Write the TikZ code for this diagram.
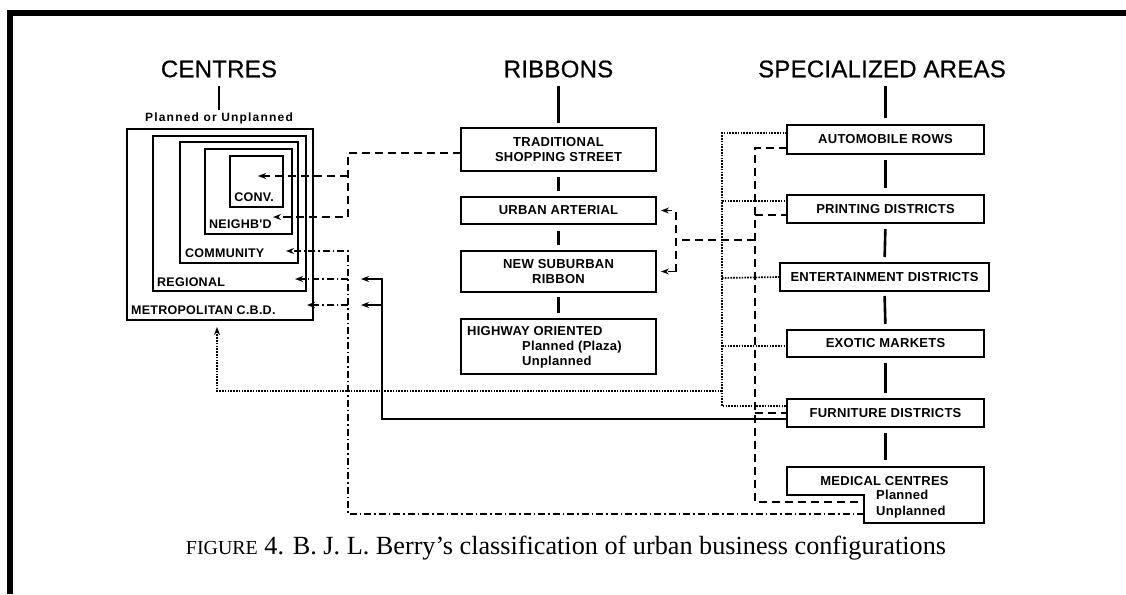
\documentclass[tikz,border=0pt]{standalone}
\usepackage{fontspec}
\usetikzlibrary{arrows.meta}
\newfontfamily\labfont[LetterSpace=2]{Liberation Sans}
\newfontfamily\pufont[LetterSpace=10]{Liberation Sans}
\newfontfamily\headfont[LetterSpace=1,FakeBold=0.6]{Liberation Sans}
\newfontfamily\capfont[Ligatures=TeX]{Liberation Serif}
\begin{document}
\begin{tikzpicture}[x=1pt,y=-1pt,
  box/.style={draw,line width=1.8pt,inner sep=0pt,outer sep=0pt,
    font=\labfont\bfseries\fontsize{13}{15.5}\selectfont,align=center},
  cbox/.style={draw,line width=1.8pt,inner sep=0pt,outer sep=0pt},
  lab/.style={font=\labfont\bfseries\fontsize{13}{15.5}\selectfont,inner sep=0pt},
  clab/.style={font=\labfont\bfseries\fontsize{12.5}{14}\selectfont,inner sep=0pt},
  head/.style={font=\headfont\fontsize{24}{28}\selectfont,inner sep=0pt},
  tick/.style={line width=2.6pt},
  arr/.style={-{Stealth[length=8pt,width=6pt]}},
  dsh/.style={line width=1.7pt,dash pattern=on 8pt off 5pt},
  dd/.style={line width=1.5pt,dash pattern=on 7pt off 3pt on 1.5pt off 3pt},
  dt/.style={line width=1.7pt,dash pattern=on 1.6pt off 1.2pt},
  sol/.style={line width=1.7pt}]
\useasboundingbox (0,0) rectangle (1126,594);
% frame
\fill (7,10) rectangle (1126,16);
\fill (7,10) rectangle (13,594);

% headings
\node[head] (hC) at (219,69) {CENTRES};
\node[head] (hR) at (558.5,69) {RIBBONS};
\node[head] (hS) at (882,69) {SPECIALIZED AREAS};
\node[font=\pufont\bfseries\fontsize{12}{14}\selectfont,inner sep=0pt] (pou) at (219,118) {Planned or Unplanned};

% centres
\node[cbox,minimum width=186,minimum height=191] (cbd) at (220,224.5) {};
\node[cbox,minimum width=153,minimum height=155] (reg) at (229.5,213.5) {};
\node[cbox,minimum width=118,minimum height=121] (com) at (239,202.5) {};
\node[cbox,minimum width=87,minimum height=85] (nei) at (248.5,191.5) {};
\node[cbox,minimum width=53,minimum height=51] (conv) at (256.5,181.5) {};
\node[clab] (lconv) at (254,197) {CONV.};
\node[clab,anchor=west] (lnei) at (209,224) {NEIGHB'D};
\node[clab,anchor=west] (lcom) at (185,253) {COMMUNITY};
\node[clab,anchor=west] (lreg) at (157,282) {REGIONAL};
\node[clab,anchor=west] (lcbd) at (131,310) {METROPOLITAN C.B.D.};

% ribbons
\node[box,minimum width=195,minimum height=43] (trad) at (558.5,149.5) {TRADITIONAL\\SHOPPING STREET};
\node[box,minimum width=195,minimum height=27] (ua) at (558.5,210.5) {URBAN ARTERIAL};
\node[box,minimum width=195,minimum height=41] (nsr) at (558.5,271.5) {NEW SUBURBAN\\RIBBON};
\node[box,minimum width=195,minimum height=55] (hw) at (558.5,346.5) {};
\node[lab,anchor=west] (hw1) at (467,331) {HIGHWAY ORIENTED};
\node[lab,anchor=west] (hw2) at (522,347) {Planned (Plaza)};
\node[lab,anchor=west] (hw3) at (522,362) {Unplanned};

% specialized areas
\node[box,minimum width=197,minimum height=29] (auto) at (885.5,139.5) {AUTOMOBILE ROWS};
\node[box,minimum width=197,minimum height=28] (print) at (885.5,209) {PRINTING DISTRICTS};
\node[box,minimum width=209,minimum height=28] (ent) at (884.5,277) {ENTERTAINMENT DISTRICTS};
\node[box,minimum width=197,minimum height=27] (exo) at (885.5,343.5) {EXOTIC MARKETS};
\node[box,minimum width=197,minimum height=28] (furn) at (885.5,413) {FURNITURE DISTRICTS};
\draw[line width=1.8pt] (787,467) -- (984,467) -- (984,523) -- (864,523) -- (864,495) -- (787,495) -- cycle;
\coordinate (medTop) at (885.5,467);
\node[lab] (medT) at (884.5,481) {MEDICAL CENTRES};
\node[lab,anchor=west] (medPl) at (876,495) {Planned};
\node[lab,anchor=west] (medUn) at (876,512) {Unplanned};

% vertical ticks
\draw[tick,shorten <=2pt,shorten >=8pt] (pou.north) -- (pou.north |- hC.south);
\draw[tick,shorten <=5pt,shorten >=8pt] (trad.north) -- (hR.south);
\draw[tick,shorten <=6pt,shorten >=6pt] (trad.south) -- (ua.north);
\draw[tick,shorten <=7pt,shorten >=6pt] (ua.south) -- (nsr.north);
\draw[tick,shorten <=5pt,shorten >=6pt] (nsr.south) -- (hw.north);
\draw[tick,shorten <=7pt,shorten >=8pt] (auto.north) -- (auto.north |- hS.south);
\draw[tick,shorten <=6pt,shorten >=7pt] (auto.south) -- (print.north);
\draw[tick,shorten <=6pt,shorten >=6pt] (print.south) -- (ent.north);
\draw[tick,shorten <=5pt,shorten >=6pt] (ent.south) -- (exo.north);
\draw[tick,shorten <=6pt,shorten >=6pt] (exo.south) -- (furn.north);
\draw[tick,shorten <=6pt,shorten >=7pt] (furn.south) -- (medTop);

% coordinates
\coordinate (tConv) at (258,176);
\coordinate (tNei) at (273,217);
\coordinate (tCom) at (286,251);
\coordinate (tReg) at (295,279);
\coordinate (tCbd) at (307,305);
\coordinate (tReg2) at (361,279);
\coordinate (tCbd2) at (361,305);
\coordinate (tCbdB) at (217,327);
\coordinate (dB) at (348,217);
\coordinate (dC) at (348,176);
\coordinate (ddTop) at (348,251);
\coordinate (ddReg) at (348,279);
\coordinate (ddCbd) at (348,305);
\coordinate (sReg) at (382,279);
\coordinate (sCbd) at (382,305);
\coordinate (medP) at (864,502);
\coordinate (medU) at (864,514);
\coordinate (dtBot) at (722,406);
\coordinate (dtP) at (722,201);
\coordinate (dtE) at (722,278);
\coordinate (dtX) at (722,346);
\coordinate (dtL) at (722,391);
\coordinate (rBot) at (755,502);
\coordinate (rP) at (755,215);
\coordinate (rF) at (755,413);
\coordinate (rM) at (755,240);
\coordinate (qM) at (676,240);
\coordinate (qBot) at (676,271.5);

% dashed: traditional street -> conv / neighb'd
\draw[dsh,arr] ([yshift=-3.5pt]trad.west) -| (dB) -- (tNei);
\draw[dsh,arr] (dC) -- (tConv);

% dash-dot: medical unplanned -> community, regional, cbd
\draw[dd,arr] (medU) -| (ddTop) -- (tCom);
\draw[dd,arr] (ddReg) -- (tReg);
\draw[dd,arr] (ddCbd) -- (tCbd);

% solid: furniture -> regional, cbd
\draw[sol,arr] ([yshift=-6pt]furn.west) -| (sReg) -- (tReg2);
\draw[sol,arr] (sCbd) -- (tCbd2);

% dotted
\draw[dt] ([yshift=6.5pt]auto.west) -| (dtBot) -- ([yshift=7pt]furn.west);
\draw[dt] (dtP) -- ([yshift=8pt]print.west);
\draw[dt] (dtE) -- (ent.west);
\draw[dt] (dtX) -- ([yshift=-2.5pt]exo.west);
\draw[dt,arr] (dtL) -| (tCbdB);

% dashed: specialized -> medical planned, ribbons
\draw[dsh] ([yshift=-8.5pt]auto.west) -| (rBot) -- (medP);
\draw[dsh] (rP) -- ([yshift=-6pt]print.west);
\draw[dsh] (rF) -- (furn.west);
\draw[dsh] (rM) -- (qM);
\draw[dsh,arr] (qBot) |- ([xshift=5pt]ua.east);
\draw[dsh,arr] (qBot) -- ([xshift=5pt]nsr.east);

% caption
\node[inner sep=0pt] (cap) at (566,548) {\resizebox{760pt}{!}{\capfont\fontsize{10}{12}\selectfont{\fontsize{7.6}{9}\selectfont FIGURE} \oldstylenums{4}. B. J. L. Berry’s classification of urban business configurations}};
\end{tikzpicture}
\end{document}
